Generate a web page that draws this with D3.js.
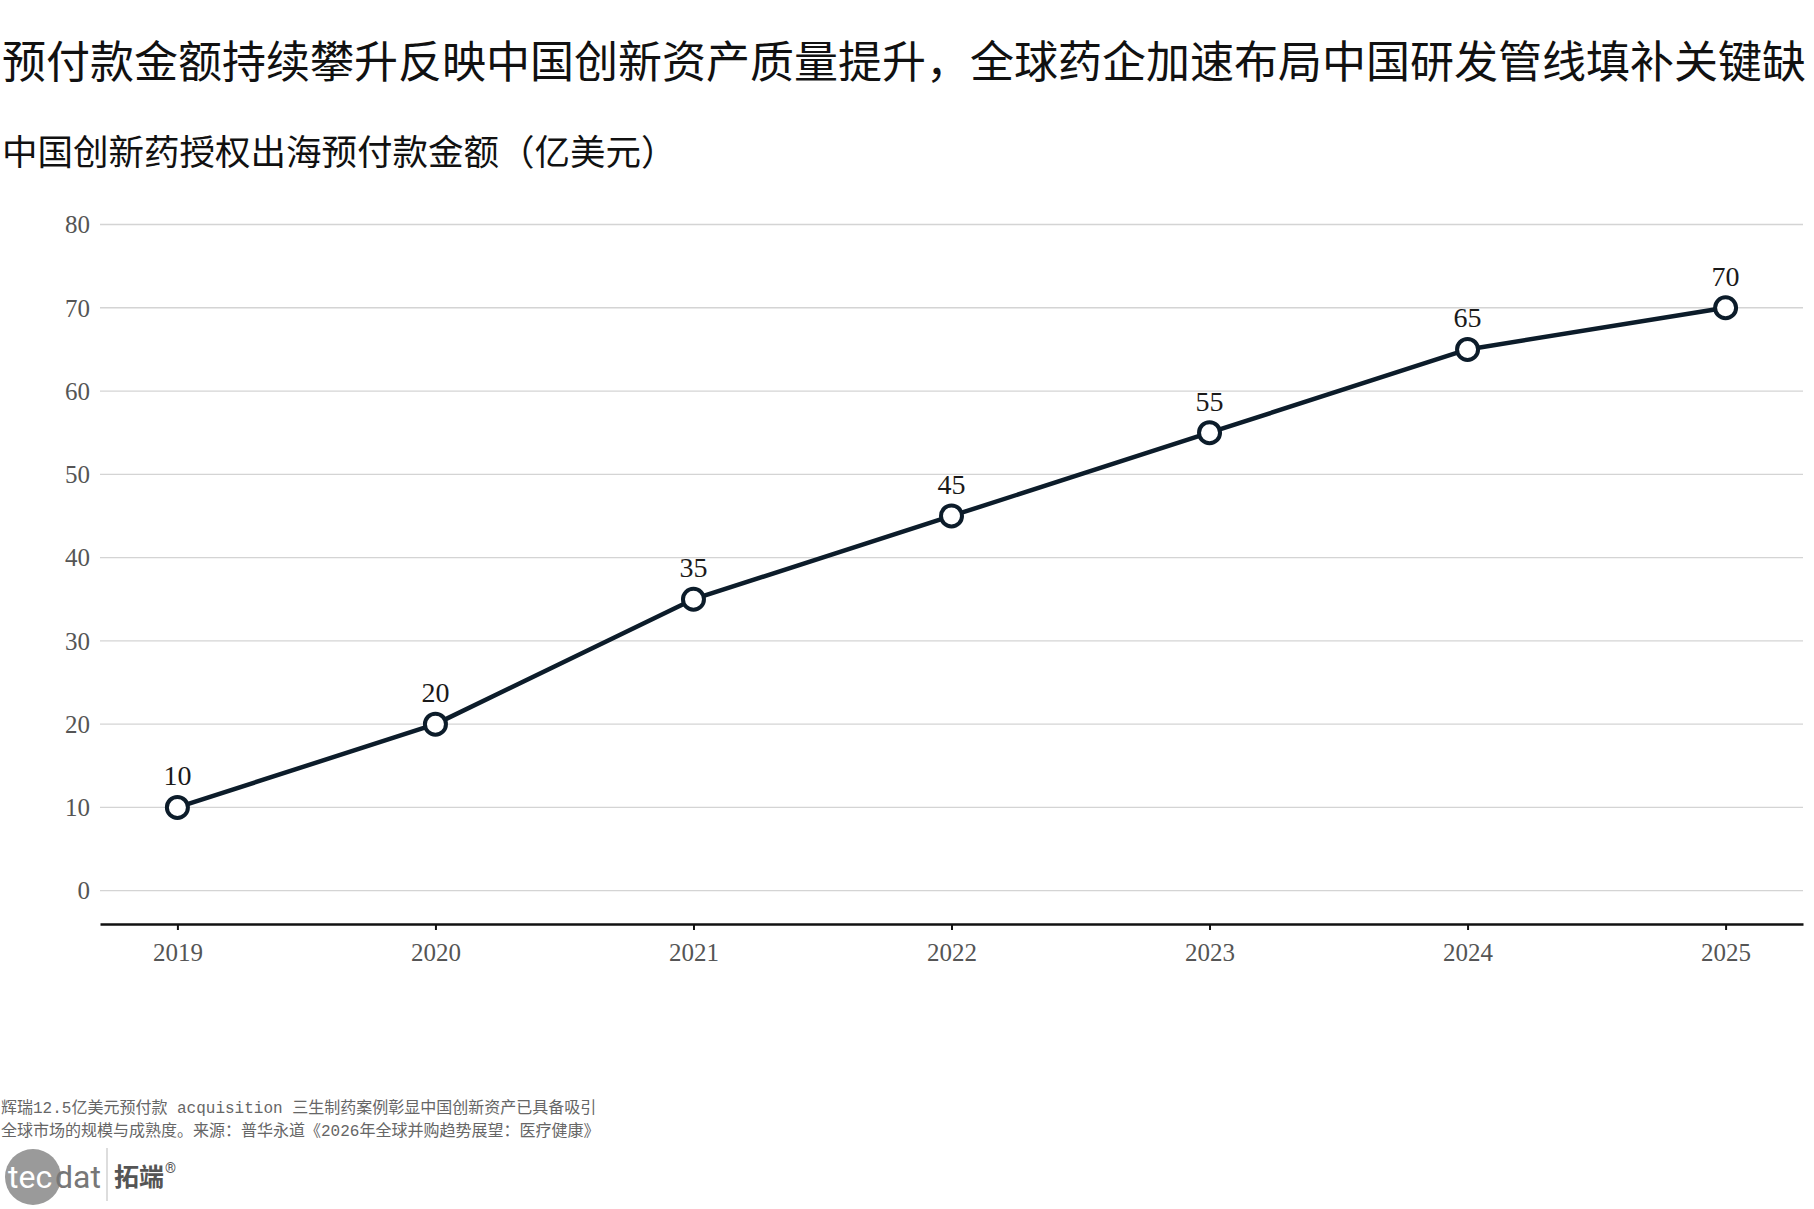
<!DOCTYPE html>
<html>
<head>
<meta charset="utf-8">
<script src="https://cdn.jsdelivr.net/npm/d3@7"></script>
<style>
  body { margin: 0; background: #fff; }
  svg { display: block; }
</style>
</head>
<body>
<script>
var years = [2019, 2020, 2021, 2022, 2023, 2024, 2025];
var upfront = [10, 20, 35, 45, 55, 65, 70];
var yTicks = [0, 10, 20, 30, 40, 50, 60, 70, 80];

var title = "预付款金额持续攀升反映中国创新资产质量提升，全球药企加速布局中国研发管线填补关键缺";
var subtitle = "中国创新药授权出海预付款金额（亿美元）";
var note1 = "辉瑞12.5亿美元预付款 acquisition 三生制药案例彰显中国创新资产已具备吸引";
var note2 = "全球市场的规模与成熟度。来源：普华永道《2026年全球并购趋势展望：医疗健康》";

var W = 1814, H = 1209;
var cjk = "'Noto Sans CJK SC', sans-serif";
var serif = "'Liberation Serif', 'DejaVu Serif', serif";

var svg = d3.select("body").append("svg")
  .attr("width", W)
  .attr("height", H);

// titles
svg.append("text")
  .attr("x", 2).attr("y", 78)
  .attr("font-family", cjk)
  .attr("font-size", "44px")
  .attr("fill", "#111")
  .text(title);

svg.append("text")
  .attr("x", 2).attr("y", 165)
  .attr("font-family", cjk)
  .attr("font-size", "35.5px")
  .attr("fill", "#111")
  .text(subtitle);

// scales
var x = d3.scaleLinear()
  .domain([2018.7, 2025.3])
  .range([100, 1803]);
var y = d3.scaleLinear()
  .domain([-4, 80])
  .range([924, 224.5]);

// gridlines
svg.append("g")
  .selectAll("line")
  .data(yTicks)
  .enter().append("line")
  .attr("x1", 100).attr("x2", 1803)
  .attr("y1", function(d) { return y(d); })
  .attr("y2", function(d) { return y(d); })
  .attr("stroke", "#d4d4d4")
  .attr("stroke-width", 1.3);

// y labels
svg.append("g")
  .selectAll("text")
  .data(yTicks)
  .enter().append("text")
  .attr("x", 90)
  .attr("y", function(d) { return y(d); })
  .attr("dy", "0.35em")
  .attr("text-anchor", "end")
  .attr("font-family", serif)
  .attr("font-size", "25px")
  .attr("fill", "#555")
  .text(function(d) { return d; });

// x axis
var xAxis = svg.append("g")
  .attr("transform", "translate(0," + y(-4) + ")")
  .call(d3.axisBottom(x).tickValues(years).tickFormat(d3.format("d")).tickSize(6).tickSizeOuter(0).tickPadding(13));
xAxis.select(".domain").attr("stroke", "#111").attr("stroke-width", 2.5);
xAxis.selectAll(".tick line").attr("stroke", "#111").attr("stroke-width", 2);
xAxis.selectAll(".tick text")
  .attr("font-family", serif)
  .attr("font-size", "25px")
  .attr("fill", "#555");

// line
var line = d3.line()
  .x(function(d, i) { return x(years[i]); })
  .y(function(d) { return y(d); });

svg.append("path")
  .datum(upfront)
  .attr("d", line)
  .attr("fill", "none")
  .attr("stroke", "#0c1c2a")
  .attr("stroke-width", 4.5)
  .attr("stroke-linejoin", "round");

svg.append("g")
  .selectAll("circle")
  .data(upfront)
  .enter().append("circle")
  .attr("cx", function(d, i) { return x(years[i]); })
  .attr("cy", function(d) { return y(d); })
  .attr("r", 10.5)
  .attr("fill", "#fff")
  .attr("stroke", "#0c1c2a")
  .attr("stroke-width", 4);

// value labels
svg.append("g")
  .selectAll("text")
  .data(upfront)
  .enter().append("text")
  .attr("x", function(d, i) { return x(years[i]); })
  .attr("y", function(d) { return y(d) - 22; })
  .attr("text-anchor", "middle")
  .attr("font-family", serif)
  .attr("font-size", "28px")
  .attr("fill", "#1a1a1a")
  .text(function(d) { return d; });

// footnote
var noteFont = "'Liberation Mono', 'Noto Sans CJK SC', monospace";
svg.append("text")
  .attr("x", 1).attr("y", 1113)
  .attr("font-family", noteFont)
  .attr("font-size", "16px")
  .attr("fill", "#666")
  .text(note1);
svg.append("text")
  .attr("x", 1).attr("y", 1136)
  .attr("font-family", noteFont)
  .attr("font-size", "16px")
  .attr("fill", "#666")
  .text(note2);

// logo
var logo = svg.append("g").attr("transform", "translate(0,-4)");
logo.append("circle")
  .attr("cx", 33).attr("cy", 1181).attr("r", 28)
  .attr("fill", "#9a9a9a");
logo.append("text")
  .attr("x", 8).attr("y", 1192)
  .attr("font-family", "'Roboto', sans-serif")
  .attr("font-size", "32px")
  .attr("fill", "#fff")
  .text("tec");
logo.append("text")
  .attr("x", 55).attr("y", 1192)
  .attr("font-family", "'Roboto', sans-serif")
  .attr("font-size", "32px")
  .attr("fill", "#777")
  .text("dat");
logo.append("line")
  .attr("x1", 107).attr("x2", 107)
  .attr("y1", 1152).attr("y2", 1205)
  .attr("stroke", "#bbb").attr("stroke-width", 1);
logo.append("text")
  .attr("x", 114).attr("y", 1190)
  .attr("font-family", cjk)
  .attr("font-size", "25px")
  .attr("font-weight", "bold")
  .attr("fill", "#555")
  .text("拓端");
logo.append("text")
  .attr("x", 165).attr("y", 1177)
  .attr("font-family", "'Roboto', sans-serif")
  .attr("font-size", "14px")
  .attr("fill", "#555")
  .text("®");
</script>
</body>
</html>
